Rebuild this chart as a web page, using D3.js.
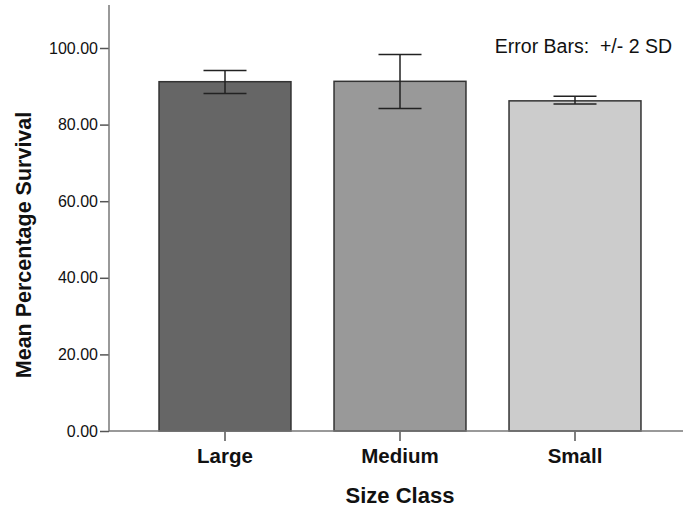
<!DOCTYPE html>
<html>
<head>
<meta charset="utf-8">
<script src="https://cdn.jsdelivr.net/npm/d3@7"></script>
<style>
  body { margin: 0; background: #fff; }
  text { font-family: "Liberation Sans", Arial, sans-serif; }
</style>
</head>
<body>
<svg id="svg" width="683" height="508"></svg>
<script>
// data
var categories = ["Large", "Medium", "Small"];
var means = [91.2, 91.3, 86.2];
var errLow = [88.1, 84.2, 85.4];
var errHigh = [94.1, 98.3, 87.4];
var yTicks = [0, 20, 40, 60, 80, 100];
var fills = ["#666666", "#999999", "#cccccc"];

var svg = d3.select("#svg");

var x = d3.scaleBand()
    .domain(categories)
    .range([137.5, 662.5])
    .paddingInner(0.246)
    .paddingOuter(0.123);

var y = d3.scaleLinear()
    .domain([0, 100])
    .range([431, 48]);

var x0 = 109;

// bars
svg.selectAll("rect.bar")
    .data(categories)
    .enter().append("rect")
    .attr("class", "bar")
    .attr("x", function(d) { return x(d); })
    .attr("width", x.bandwidth())
    .attr("y", function(d, i) { return y(means[i]); })
    .attr("height", function(d, i) { return y(0) - y(means[i]); })
    .attr("fill", function(d, i) { return fills[i]; })
    .attr("stroke", "#333")
    .attr("stroke-width", 1.5);

// error bars
var capW = 43;
var eb = svg.selectAll("g.eb")
    .data(categories)
    .enter().append("g")
    .attr("class", "eb")
    .attr("stroke", "#222")
    .attr("stroke-width", 1.5);
eb.append("line")
    .attr("x1", function(d) { return x(d) + x.bandwidth() / 2; })
    .attr("x2", function(d) { return x(d) + x.bandwidth() / 2; })
    .attr("y1", function(d, i) { return y(errHigh[i]); })
    .attr("y2", function(d, i) { return y(errLow[i]); });
eb.append("line")
    .attr("x1", function(d) { return x(d) + x.bandwidth() / 2 - capW / 2; })
    .attr("x2", function(d) { return x(d) + x.bandwidth() / 2 + capW / 2; })
    .attr("y1", function(d, i) { return y(errHigh[i]); })
    .attr("y2", function(d, i) { return y(errHigh[i]); });
eb.append("line")
    .attr("x1", function(d) { return x(d) + x.bandwidth() / 2 - capW / 2; })
    .attr("x2", function(d) { return x(d) + x.bandwidth() / 2 + capW / 2; })
    .attr("y1", function(d, i) { return y(errLow[i]); })
    .attr("y2", function(d, i) { return y(errLow[i]); });

// y axis
var yAxis = d3.axisLeft(y)
    .tickValues(yTicks)
    .tickSize(9)
    .tickPadding(2)
    .tickFormat(d3.format(".2f"));
var gy = svg.append("g")
    .attr("transform", "translate(" + x0 + ",0)")
    .call(yAxis);
gy.select(".domain").remove();
gy.append("line")
    .attr("x1", 0).attr("x2", 0)
    .attr("y1", 5).attr("y2", y(0))
    .attr("stroke", "#777").attr("stroke-width", 1.5);
gy.selectAll(".tick line").attr("stroke", "#555").attr("stroke-width", 1.5);
gy.selectAll(".tick text")
    .attr("fill", "#111")
    .style("font-size", "16px");

// x axis
var xAxis = d3.axisBottom(x).tickSize(10).tickPadding(7);
var gx = svg.append("g")
    .attr("transform", "translate(0," + y(0) + ")")
    .call(xAxis);
gx.select(".domain").remove();
gx.append("line")
    .attr("x1", x0).attr("x2", 683)
    .attr("y1", 0).attr("y2", 0)
    .attr("stroke", "#777").attr("stroke-width", 1.5);
gx.selectAll(".tick line").attr("stroke", "#555").attr("stroke-width", 1.5);
gx.selectAll(".tick text")
    .attr("fill", "#111")
    .style("font-size", "20.5px")
    .style("font-weight", "bold");

// titles
svg.append("text")
    .attr("x", 400).attr("y", 503)
    .attr("text-anchor", "middle")
    .style("font-size", "22px")
    .style("font-weight", "bold")
    .attr("fill", "#111")
    .text("Size Class");

svg.append("text")
    .attr("transform", "translate(31,245) rotate(-90)")
    .attr("text-anchor", "middle")
    .style("font-size", "21.5px")
    .style("font-weight", "bold")
    .attr("fill", "#111")
    .text("Mean Percentage Survival");

svg.append("text")
    .attr("x", 672).attr("y", 53)
    .attr("text-anchor", "end")
    .style("font-size", "19.5px")
    .style("white-space", "pre")
    .attr("fill", "#111")
    .text("Error Bars:  +/- 2 SD");
</script>
</body>
</html>
